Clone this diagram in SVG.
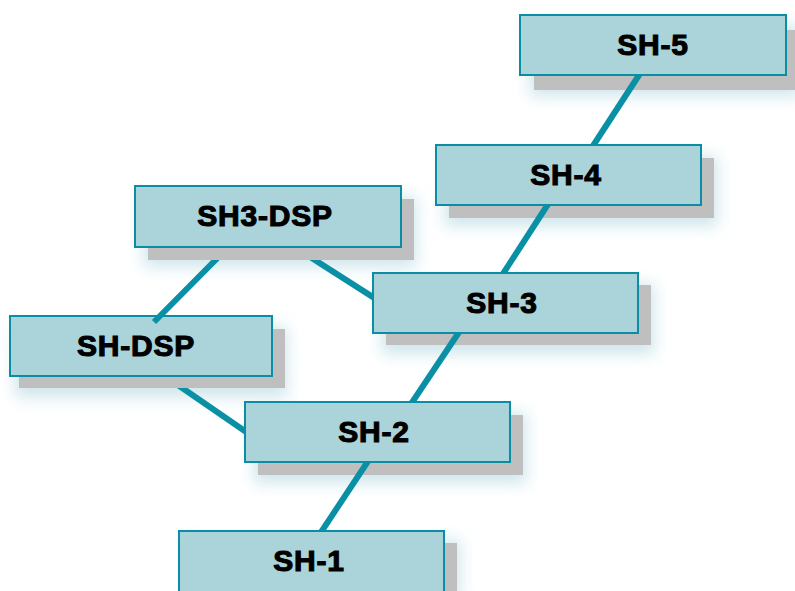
<svg xmlns="http://www.w3.org/2000/svg" width="795" height="591" viewBox="0 0 795 591">
  <defs>
    <style>
      .haze { fill: #a6d0dc; opacity: 0.55; filter: url(#soft); }
      .shadow { fill: #bfbfbf; }
      .box { fill: #abd3da; stroke: #0b8ea3; stroke-width: 2; }
      .label { font-family: "Liberation Sans", Arial, sans-serif; font-weight: bold; font-size: 30px; letter-spacing: 0.8px; fill: #000; stroke: #000; stroke-width: 1.1; text-anchor: middle; }
      .link { stroke: #0a90a5; stroke-width: 6; fill: none; }
    </style>
    <filter id="soft" x="-20%" y="-50%" width="140%" height="200%">
      <feGaussianBlur stdDeviation="8"/>
    </filter>
    <!-- connectors are hidden inside boxes and under the DSP shadows -->
    <clipPath id="outside-boxes">
      <path clip-rule="evenodd" d="M0 0H795V591H0Z
        M520 15h266v60h-266Z
        M436 145h265v60h-265Z
        M373 273h265v60h-265Z
        M245 402h265v60h-265Z
        M179 531h265v60h-265Z
        M148 199h266v61h-266Z
        M19 329h266v59h-266Z"/>
    </clipPath>
  </defs>

  <rect width="795" height="591" fill="#ffffff"/>

  <!-- soft haze beneath the drop shadows -->
  <g id="haze">
    <rect class="haze" x="530" y="26" width="272" height="70"/>
    <rect class="haze" x="445" y="156" width="272" height="70"/>
    <rect class="haze" x="144" y="197" width="272" height="70"/>
    <rect class="haze" x="382" y="284" width="272" height="70"/>
    <rect class="haze" x="15" y="327" width="272" height="70"/>
    <rect class="haze" x="254" y="413" width="272" height="70"/>
    <rect class="haze" x="188" y="540" width="272" height="60"/>
  </g>

  <g id="node-sh5">
    <rect class="shadow" x="534" y="30" width="266" height="60"/>
    <rect class="box" x="520" y="15" width="266" height="60"/>
    <text class="label" x="653" y="55">SH-5</text>
  </g>
  <g id="node-sh4">
    <rect class="shadow" x="449" y="158" width="265" height="60"/>
    <rect class="box" x="436" y="145" width="265" height="60"/>
    <text class="label" x="566" y="185">SH-4</text>
  </g>
  <g id="node-sh3-dsp">
    <rect class="shadow" x="148" y="199" width="266" height="61"/>
    <rect class="box" x="135" y="186" width="266" height="61"/>
    <text class="label" x="265" y="226">SH3-DSP</text>
  </g>
  <g id="node-sh3">
    <rect class="shadow" x="386" y="285" width="265" height="60"/>
    <rect class="box" x="373" y="273" width="265" height="60"/>
    <text class="label" x="502" y="313">SH-3</text>
  </g>
  <g id="node-sh-dsp">
    <rect class="shadow" x="19" y="329" width="266" height="59"/>
    <rect class="box" x="10" y="316" width="262" height="60"/>
    <text class="label" x="136" y="356">SH-DSP</text>
  </g>
  <g id="node-sh2">
    <rect class="shadow" x="258" y="415" width="265" height="60"/>
    <rect class="box" x="245" y="402" width="265" height="60"/>
    <text class="label" x="374" y="442">SH-2</text>
  </g>
  <g id="node-sh1">
    <rect class="shadow" x="192" y="543" width="265" height="60"/>
    <rect class="box" x="179" y="531" width="265" height="62"/>
    <text class="label" x="309" y="571">SH-1</text>
  </g>

  <g id="connectors" clip-path="url(#outside-boxes)">
    <line class="link" x1="642.3" y1="70" x2="590.3" y2="150"/>
    <line class="link" x1="550.7" y1="200" x2="500.3" y2="278"/>
    <line class="link" x1="461.8" y1="328" x2="409" y2="407"/>
    <line class="link" x1="370.8" y1="457" x2="318.5" y2="536"/>
    <line class="link" x1="220.5" y1="255" x2="154" y2="322"/>
    <line class="link" x1="307" y1="255" x2="380" y2="301.6"/>
    <line class="link" x1="175" y1="383" x2="252" y2="436"/>
  </g>
</svg>
